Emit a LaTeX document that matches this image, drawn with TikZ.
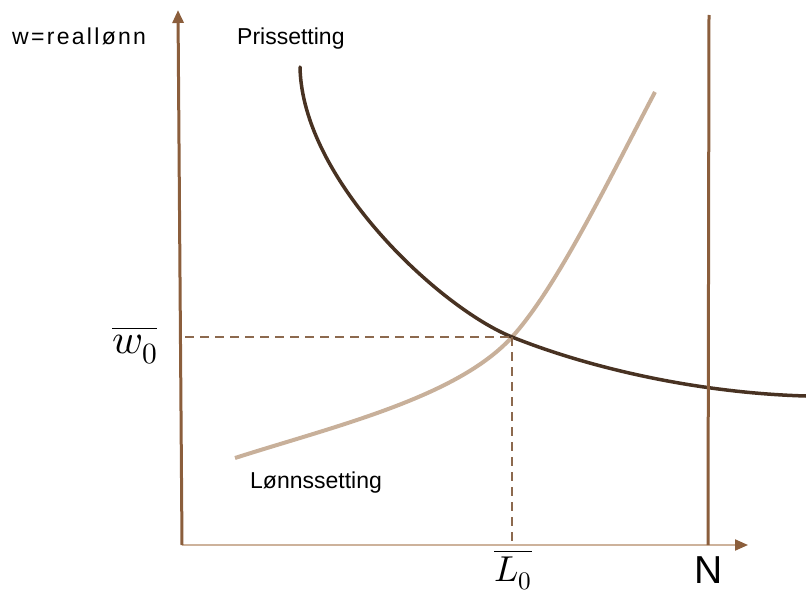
\documentclass[tikz,border=0pt]{standalone}
\usepackage{fontspec}
\usepackage{unicode-math}
\setmathfont{Latin Modern Math}
\newfontfamily\labfont{Liberation Sans}
\newfontfamily\labwide[LetterSpace=10]{Liberation Sans}
\usetikzlibrary{arrows.meta}
\definecolor{axisbrown}{RGB}{139,94,60}
\definecolor{axistan}{RGB}{205,178,155}
\definecolor{prisdark}{RGB}{72,50,34}
\definecolor{lonntan}{RGB}{200,176,154}
\definecolor{dashbrown}{RGB}{140,105,78}
\tikzset{
  axisline/.style={draw=axisbrown, line width=3pt},
  xaxisline/.style={draw=axistan, line width=2pt},
  tip/.style={-{Triangle[length=13pt,width=11pt,fill=axisbrown,color=axisbrown]}},
  prisline/.style={draw=prisdark, line width=3.5pt, line cap=round},
  lonnline/.style={draw=lonntan, line width=4pt},
  guide/.style={draw=dashbrown, line width=1.6pt, dash pattern=on 9pt off 6pt},
  lab/.style={font=\labfont\fontsize{23}{23}\selectfont, inner sep=0pt, anchor=base west},
}
\begin{document}
\begin{tikzpicture}[x=1pt,y=-1pt]
\useasboundingbox (0,0) rectangle (806,594);
\coordinate (O) at (182,545);
\coordinate (ytop) at (178,10);
\coordinate (xend) at (748,545);
\coordinate (xtipbase) at (735,545);
\coordinate (Ntop) at (709,15);
\coordinate (Nbot) at (708,545);
\coordinate (E) at (512,337);
\coordinate (Ew) at (185,337);
\coordinate (EL) at (512,545);
\coordinate (Lstart) at (235,458);
\coordinate (Lend) at (655,92);
\coordinate (Pstart) at (300,67);
\coordinate (Pend) at (806,396);
% curves
\draw[lonnline] (Lstart) .. controls (335,426) and (457,397.5) .. (E)
                         .. controls (557,287.5) and (610,177.5) .. (Lend);
\draw[prisline] (Pstart) .. controls (302,180) and (440,308) .. (E)
                         .. controls (592,369) and (700,393) .. (Pend);
% guides
\draw[guide] (Ew) -- (E);
\draw[guide] (E) -- (EL);
% axes
\draw[xaxisline] (O) -- (xtipbase);
\draw[tip, draw=axistan, line width=2pt] (xtipbase) -- (xend);
\draw[axisline, tip] (O) -- (ytop);
\draw[axisline] (Nbot) -- (Ntop);
% labels
\node[lab, font=\labwide\fontsize{23}{23}\selectfont] (wlab) at (12,45) {w=reallønn};
\node[lab] (plab) at (237,45) {Prissetting};
\node[lab] (llab) at (250,488) {Lønnssetting};
\node[inner sep=0pt, anchor=base, font=\labfont\fontsize{39}{39}\selectfont] (nlab) at (709,583) {N};
\node[inner sep=0pt, anchor=base west, font=\fontsize{42}{42}\selectfont] (w0) at (112,353) {$\overline{w_0}$};
\node[inner sep=0pt, anchor=base, font=\fontsize{36}{36}\selectfont] (L0) at (513,581) {$\overline{L_0}$};
\end{tikzpicture}
\end{document}
